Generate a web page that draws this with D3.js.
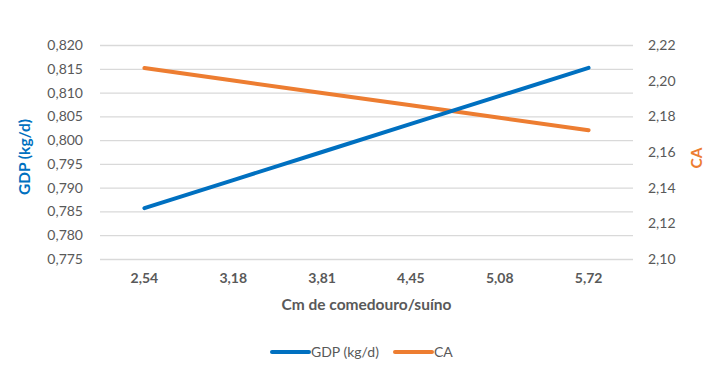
<!DOCTYPE html>
<html>
<head>
<meta charset="utf-8">
<script src="https://cdn.jsdelivr.net/npm/d3@7"></script>
<style>
  body { margin: 0; background: #fff; }
  svg text { font-family: Lato, "Open Sans", sans-serif; }
</style>
</head>
<body>
<svg id="chart" width="720" height="374"></svg>
<script>
// chart data
var categories = ["2,54", "3,18", "3,81", "4,45", "5,08", "5,72"];
var gdpValues = [0.7857, 0.7916, 0.7975, 0.8034, 0.8093, 0.8152];
var caValues = [2.2071, 2.2001, 2.1931, 2.1862, 2.1792, 2.1722];
var leftTicks = [0.775, 0.780, 0.785, 0.790, 0.795, 0.800, 0.805, 0.810, 0.815, 0.820];
var rightTicks = [2.10, 2.12, 2.14, 2.16, 2.18, 2.20, 2.22];

var blue = "#0070C0", orange = "#ED7D31", grey = "#595959";
var margin = { left: 100, right: 87, top: 45, bottom: 115 };
var width = 720, height = 374;

var svg = d3.select("svg#chart");

var xScale = d3.scaleBand()
    .domain(categories)
    .range([margin.left, width - margin.right]);
var yLeft = d3.scaleLinear()
    .domain([0.775, 0.820])
    .range([height - margin.bottom, margin.top]);
var yRight = d3.scaleLinear()
    .domain([2.10, 2.22])
    .range([height - margin.bottom, margin.top]);

var commaFmt = function(digits) {
    return function(d) { return d3.format("." + digits + "f")(d).replace(".", ","); };
};

// gridlines + left axis
var leftAxis = svg.append("g")
    .attr("transform", "translate(" + margin.left + ",0)")
    .call(d3.axisLeft(yLeft).tickValues(leftTicks).tickFormat(commaFmt(3))
        .tickSize(-(width - margin.left - margin.right)).tickPadding(17));
leftAxis.select(".domain").remove();
leftAxis.selectAll("line").attr("stroke", "#d9d9d9").attr("stroke-width", 1.3);
leftAxis.selectAll("text").attr("fill", grey).style("font-size", "14px");

// right axis (labels only)
var rightAxis = svg.append("g")
    .attr("transform", "translate(" + (width - margin.right) + ",0)")
    .call(d3.axisRight(yRight).tickValues(rightTicks).tickFormat(commaFmt(2))
        .tickSize(0).tickPadding(15));
rightAxis.select(".domain").remove();
rightAxis.selectAll("text").attr("fill", grey).style("font-size", "14px");

// x axis
var xAxis = svg.append("g")
    .attr("transform", "translate(0," + (height - margin.bottom) + ")")
    .call(d3.axisBottom(xScale).tickSize(0).tickPadding(14));
xAxis.select(".domain").remove();
xAxis.selectAll("text").attr("fill", grey).style("font-size", "14px").style("font-weight", "bold");

// axis titles
svg.append("text")
    .attr("transform", "translate(30,157) rotate(-90)")
    .style("text-anchor", "middle")
    .style("font-size", "15.5px")
    .style("font-weight", "bold")
    .attr("fill", blue)
    .text("GDP (kg/d)");

svg.append("text")
    .attr("transform", "translate(702,158) rotate(-90)")
    .style("text-anchor", "middle")
    .style("font-size", "15.5px")
    .style("font-weight", "bold")
    .attr("fill", orange)
    .text("CA");

svg.append("text")
    .attr("x", (margin.left + width - margin.right) / 2)
    .attr("y", 310)
    .style("text-anchor", "middle")
    .style("font-size", "15.5px")
    .style("font-weight", "bold")
    .attr("fill", grey)
    .text("Cm de comedouro/suíno");

// lines
var cx = function(i) { return xScale(categories[i]) + xScale.bandwidth() / 2; };

svg.append("path")
    .datum(caValues)
    .attr("fill", "none")
    .attr("stroke", orange)
    .attr("stroke-width", 4)
    .attr("stroke-linecap", "round")
    .attr("d", d3.line().x((d, i) => cx(i)).y(d => yRight(d)));

svg.append("path")
    .datum(gdpValues)
    .attr("fill", "none")
    .attr("stroke", blue)
    .attr("stroke-width", 4)
    .attr("stroke-linecap", "round")
    .attr("d", d3.line().x((d, i) => cx(i)).y(d => yLeft(d)));

// legend
var legend = [
    { name: "GDP (kg/d)", color: blue, x: 272 },
    { name: "CA", color: orange, x: 395 }
];
var lg = svg.append("g").selectAll("g").data(legend).enter().append("g")
    .attr("transform", d => "translate(" + d.x + ",352)");
lg.append("line")
    .attr("x1", 0).attr("x2", 37)
    .attr("stroke", d => d.color)
    .attr("stroke-width", 4)
    .attr("stroke-linecap", "round");
lg.append("text")
    .attr("x", 39)
    .attr("dy", "0.35em")
    .attr("fill", grey)
    .style("font-size", "14px")
    .text(d => d.name);
</script>
</body>
</html>
